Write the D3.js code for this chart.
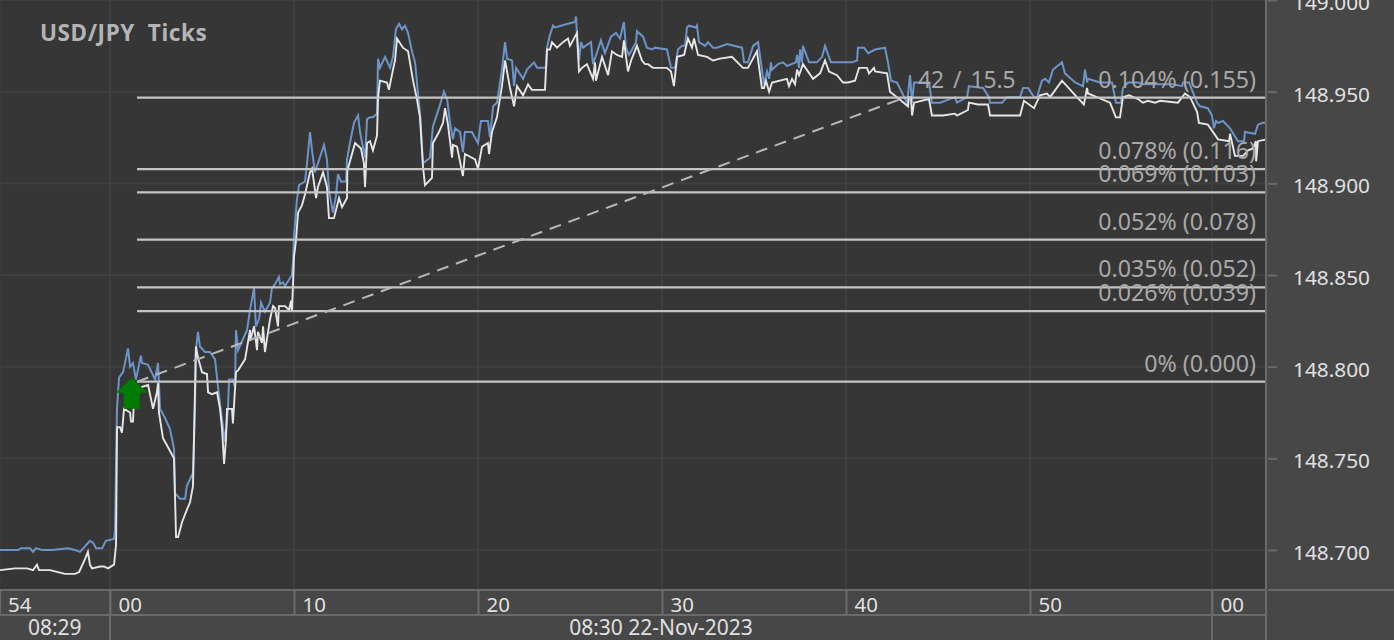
<!DOCTYPE html>
<html><head><meta charset="utf-8">
<script src="https://cdn.jsdelivr.net/npm/d3@7"></script>
<style>
html,body{margin:0;padding:0;background:#474747;overflow:hidden}
svg{display:block}
text{font-family:"Noto Sans",sans-serif}
</style></head><body><div id="c"></div>
<script>
const title="USD/JPY  Ticks";
const askSec=[-5.98,-5.00,-4.84,-4.35,-4.18,-4.02,-3.70,-3.15,-2.28,-1.90,-1.63,-1.36,-1.09,-0.92,-0.76,-0.43,-0.22,0.22,0.27,0.38,0.49,0.71,0.98,1.09,1.25,1.41,1.68,1.74,2.07,2.45,2.61,2.72,2.99,3.26,3.48,3.53,3.80,4.08,4.18,4.51,4.62,4.67,4.78,4.89,5.16,5.43,5.71,5.87,5.98,6.14,6.25,6.41,6.47,6.68,6.79,6.85,6.96,7.45,7.61,7.83,7.93,8.10,8.21,8.42,8.70,8.80,8.97,9.18,9.24,9.40,9.51,9.89,9.95,10.00,10.16,10.27,10.60,10.71,10.87,10.98,11.14,11.63,11.79,11.90,12.12,12.28,12.39,12.55,12.83,12.88,13.04,13.26,13.48,13.59,13.86,13.97,14.13,14.29,14.51,14.57,14.67,14.95,15.22,15.38,15.54,15.71,15.87,16.03,16.20,16.41,16.58,16.74,16.85,17.01,17.39,17.55,17.88,18.15,18.32,18.48,18.64,18.75,19.02,19.18,19.29,19.67,20.00,20.16,20.54,20.65,20.82,21.03,21.30,21.47,21.58,21.85,21.96,22.07,22.45,22.66,23.04,23.21,23.70,23.75,23.91,24.08,24.18,24.89,25.27,25.33,25.38,25.49,25.60,25.71,26.14,26.25,26.52,26.68,26.90,27.23,27.50,27.72,27.93,28.04,28.21,28.59,28.64,28.97,29.18,29.46,29.62,30.27,30.49,30.71,30.87,31.09,31.25,31.36,31.47,31.85,31.90,32.01,32.34,32.50,32.77,32.99,33.53,34.35,34.46,34.67,34.95,35.22,35.43,35.54,35.71,35.82,35.92,35.98,36.30,36.58,36.79,37.28,37.34,37.45,37.50,37.61,37.66,37.99,38.42,38.70,38.86,39.18,39.78,40.00,40.33,40.60,40.65,40.98,41.20,41.58,42.12,42.28,42.45,42.77,43.32,43.48,43.59,43.70,44.51,44.67,45.11,45.92,46.03,46.58,46.68,47.45,47.77,47.83,48.48,48.75,49.46,49.62,49.89,50.16,50.22,50.38,50.65,50.82,51.03,51.25,51.74,51.90,52.45,52.88,52.99,53.10,53.15,53.80,54.46,54.67,54.95,55.05,55.33,55.87,56.14,56.96,57.77,58.26,58.32,58.64,59.08,59.24,59.67,59.89,60.00,60.11,60.22,60.49,60.87,61.30,61.63,61.68,62.23,62.39,62.66,62.93];
const askPx=[148.700,148.700,148.701,148.701,148.699,148.701,148.700,148.700,148.701,148.700,148.699,148.702,148.705,148.704,148.701,148.701,148.705,148.706,148.711,148.777,148.794,148.797,148.810,148.800,148.802,148.793,148.806,148.802,148.801,148.793,148.802,148.777,148.772,148.766,148.755,148.731,148.728,148.728,148.735,148.742,148.778,148.809,148.819,148.811,148.808,148.808,148.804,148.789,148.780,148.767,148.759,148.777,148.793,148.793,148.789,148.820,148.809,148.820,148.831,148.843,148.822,148.826,148.835,148.830,148.835,148.843,148.845,148.849,148.845,148.846,148.844,148.850,148.858,148.871,148.891,148.899,148.901,148.911,148.928,148.918,148.906,148.921,148.913,148.896,148.884,148.893,148.905,148.901,148.901,148.913,148.922,148.933,148.937,148.928,148.914,148.935,148.936,148.936,148.938,148.968,148.963,148.969,148.963,148.969,148.984,148.987,148.984,148.986,148.982,148.972,148.966,148.949,148.938,148.911,148.914,148.931,148.941,148.950,148.946,148.933,148.924,148.930,148.928,148.917,148.928,148.928,148.922,148.934,148.934,148.925,148.942,148.944,148.962,148.977,148.968,148.967,148.953,148.963,148.957,148.962,148.966,148.963,148.963,148.974,148.981,148.986,148.985,148.987,148.988,148.991,148.980,148.967,148.977,148.974,148.977,148.965,148.973,148.978,148.971,148.980,148.982,148.979,148.988,148.974,148.970,148.977,148.983,148.980,148.974,148.973,148.974,148.973,148.963,148.963,148.973,148.975,148.975,148.985,148.986,148.985,148.986,148.977,148.975,148.977,148.974,148.974,148.976,148.974,148.966,148.966,148.975,148.977,148.962,148.954,148.961,148.957,148.966,148.962,148.965,148.966,148.964,148.966,148.970,148.963,148.973,148.966,148.975,148.966,148.966,148.969,148.975,148.966,148.966,148.966,148.966,148.967,148.974,148.974,148.971,148.973,148.974,148.966,148.956,148.955,148.944,148.959,148.944,148.955,148.955,148.944,148.944,148.947,148.944,148.947,148.953,148.952,148.947,148.944,148.944,148.947,148.947,148.952,148.952,148.948,148.947,148.947,148.956,148.957,148.955,148.962,148.966,148.960,148.955,148.953,148.962,148.955,148.957,148.955,148.955,148.944,148.944,148.952,148.955,148.955,148.954,148.954,148.954,148.953,148.955,148.955,148.944,148.942,148.941,148.937,148.930,148.934,148.933,148.934,148.930,148.923,148.923,148.928,148.927,148.932,148.933,148.933];
const bidSec=[-5.98,-5.16,-4.51,-4.18,-3.97,-3.86,-3.26,-2.45,-1.90,-1.68,-1.36,-1.20,-1.09,-0.98,-0.54,-0.33,-0.11,0.22,0.33,0.38,0.54,0.65,0.76,1.09,1.14,1.25,1.30,1.74,2.07,2.34,2.55,2.61,2.66,2.88,3.10,3.48,3.59,3.70,3.91,4.18,4.35,4.51,4.67,4.78,5.00,5.27,5.33,5.54,5.82,5.98,6.09,6.20,6.30,6.36,6.63,6.68,6.85,6.96,7.34,7.61,7.62,7.83,7.99,8.04,8.26,8.32,8.42,8.70,8.86,8.97,9.13,9.18,9.51,9.73,9.84,9.89,9.95,10.00,10.11,10.22,10.43,10.60,10.87,10.98,11.20,11.30,11.58,11.79,11.90,12.17,12.45,12.61,12.88,12.90,13.32,13.64,13.80,13.86,13.97,14.13,14.29,14.51,14.57,14.67,15.05,15.16,15.38,15.49,15.60,15.92,16.20,16.47,16.68,16.85,17.01,17.12,17.50,17.55,17.88,18.10,18.21,18.37,18.59,18.64,18.86,19.18,19.29,19.84,20.00,20.22,20.54,20.60,20.76,21.03,21.30,21.47,21.74,21.96,22.12,22.45,22.72,22.93,23.64,23.75,23.91,24.02,24.29,24.62,24.89,25.00,25.27,25.38,25.49,25.65,25.92,26.25,26.36,26.41,26.74,27.07,27.28,27.55,27.83,27.93,28.15,28.32,28.64,28.91,29.08,29.24,29.51,30.00,30.27,30.49,30.65,30.82,31.20,31.41,31.63,31.74,31.96,32.45,32.77,33.15,33.80,34.40,34.67,35.16,35.43,35.54,35.65,35.82,35.98,36.79,36.90,37.07,37.23,37.34,37.45,37.66,38.21,38.59,38.86,39.08,39.51,39.84,40.11,40.49,40.71,41.14,41.25,41.52,41.58,42.23,42.39,42.77,43.37,43.42,43.53,43.59,43.70,44.51,44.67,45.27,45.92,46.03,46.63,46.68,47.17,47.72,47.83,48.48,48.91,49.46,49.67,50.22,50.54,50.92,51.09,51.74,52.55,52.93,53.10,53.15,53.64,54.35,54.67,54.89,55.05,55.38,55.87,56.14,56.41,56.79,57.07,58.04,58.42,58.70,59.08,59.18,59.67,60.22,60.82,60.87,61.14,61.58,61.85,62.12,62.28,62.29,62.39,62.88];
const bidPx=[148.689,148.690,148.690,148.689,148.692,148.689,148.689,148.687,148.687,148.688,148.695,148.699,148.692,148.690,148.691,148.691,148.690,148.692,148.703,148.767,148.767,148.764,148.777,148.775,148.770,148.770,148.781,148.789,148.790,148.777,148.786,148.791,148.775,148.761,148.757,148.750,148.707,148.707,148.715,148.722,148.726,148.735,148.811,148.805,148.797,148.796,148.786,148.785,148.786,148.777,148.766,148.747,148.760,148.777,148.777,148.769,148.797,148.798,148.804,148.820,148.814,148.822,148.809,148.819,148.813,148.822,148.808,148.826,148.833,148.832,148.822,148.833,148.833,148.831,148.836,148.830,148.846,148.860,148.869,148.884,148.888,148.894,148.906,148.908,148.892,148.898,148.906,148.898,148.881,148.881,148.892,148.887,148.892,148.907,148.922,148.919,148.911,148.898,148.922,148.923,148.918,148.926,148.947,148.956,148.955,148.951,148.962,148.967,148.979,148.974,148.972,148.956,148.946,148.936,148.909,148.899,148.903,148.922,148.928,148.933,148.941,148.932,148.914,148.921,148.920,148.904,148.916,148.913,148.908,148.920,148.922,148.916,148.928,148.936,148.953,148.967,148.952,148.942,148.953,148.948,148.954,148.951,148.951,148.973,148.973,148.977,148.974,148.977,148.979,148.975,148.980,148.982,148.961,148.963,148.965,148.957,148.966,148.956,148.969,148.959,148.972,148.970,148.969,148.978,148.961,148.967,148.975,148.967,148.965,148.965,148.963,148.963,148.963,148.961,148.953,148.969,148.970,148.979,148.974,148.979,148.970,148.969,148.967,148.968,148.969,148.963,148.963,148.972,148.952,148.952,148.956,148.950,148.955,148.957,148.953,148.957,148.954,148.962,148.959,148.965,148.957,148.960,148.967,148.961,148.959,148.955,148.955,148.956,148.963,148.963,148.960,148.963,148.961,148.960,148.950,148.947,148.942,148.947,148.947,148.937,148.944,148.946,148.937,148.937,148.938,148.937,148.940,148.944,148.943,148.943,148.937,148.937,148.937,148.937,148.945,148.941,148.948,148.949,148.947,148.956,148.947,148.943,148.952,148.949,148.947,148.944,148.936,148.936,148.947,148.948,148.946,148.944,148.945,148.944,148.945,148.944,148.949,148.947,148.939,148.933,148.932,148.924,148.923,148.927,148.915,148.915,148.918,148.919,148.923,148.912,148.923,148.924];
const basePrice=148.7918;
const levelDiffs=[0,0.0385,0.0515,0.0775,0.1033,0.1160,0.155];
const levelLabels=["0% (0.000)","0.026% (0.039)","0.035% (0.052)","0.052% (0.078)","0.069% (0.103)","0.078% (0.116)","0.104% (0.155)"];
const yTicks=[148.70,148.75,148.80,148.85,148.90,148.95,149.00];
const xTicks=[-6,0,10,20,30,40,50,59.89];
const xTickLabels=["54","00","10","20","30","40","50","00"];
const minuteLabels=[{from:-6,to:0,text:"08:29"},{from:0,to:59.89,text:"08:30 22-Nov-2023"}];
const trendStart={sec:1.47,price:148.7918}, trendEnd={sec:43.2,price:148.9468};
const levelStartSec=1.47;
const entry={sec:1.18,price:148.794};
const trendLabel="42 / 15.5";

const W=1394,H=640,plotR=1266,plotB=590;
const x=d3.scaleLinear().domain([0,60]).range([110,1214]);
const y=d3.scaleLinear().domain([148.7,149.0]).range([550,0]);
const svg=d3.select("#c").append("svg").attr("width",W).attr("height",H);
svg.append("rect").attr("width",W).attr("height",H).attr("fill","#474747");
svg.append("rect").attr("width",plotR).attr("height",plotB).attr("fill","#363636");
svg.append("clipPath").attr("id","p").append("rect").attr("width",plotR).attr("height",plotB);
const plot=svg.append("g").attr("clip-path","url(#p)");
// grid
plot.selectAll(".gy").data(yTicks).join("line").attr("x1",0).attr("x2",plotR).attr("y1",d=>y(d)).attr("y2",d=>y(d)).attr("stroke","#3f3f3f").attr("stroke-width",2);
plot.selectAll(".gx").data(xTicks).join("line").attr("x1",d=>x(d)).attr("x2",d=>x(d)).attr("y1",0).attr("y2",plotB).attr("stroke","#3f3f3f").attr("stroke-width",2);
// series
const line=d3.line().x(d=>x(d[0])).y(d=>y(d[1]));
plot.append("path").attr("d",line(d3.zip(askSec,askPx))).attr("fill","none").attr("stroke","#6c94c8").attr("stroke-width",2);
plot.append("path").attr("d",line(d3.zip(bidSec,bidPx))).attr("fill","none").attr("stroke","#e6e6e6").attr("stroke-width",1.9);
// levels
plot.selectAll(".lv").data(levelDiffs).join("line").attr("x1",x(levelStartSec)).attr("x2",plotR).attr("y1",d=>y(basePrice+d)).attr("y2",d=>y(basePrice+d)).attr("stroke","#c4c4c4").attr("stroke-width",2.2);
plot.append("line").attr("x1",x(trendStart.sec)).attr("y1",y(trendStart.price)).attr("x2",x(trendEnd.sec)).attr("y2",y(trendEnd.price)).attr("stroke","#b8b8b8").attr("stroke-width",2).attr("stroke-dasharray","12 8");
// labels on levels
plot.selectAll(".ll").data(levelDiffs).join("text").attr("x",1256).attr("y",d=>y(basePrice+d)-10).attr("text-anchor","end").attr("font-size",23.2).attr("fill","#a8a8a8").text((d,i)=>levelLabels[i]);
plot.append("text").attr("x",918).attr("y",88).attr("font-size",22.8).attr("word-spacing",3).attr("fill","#a8a8a8").text(trendLabel);
// arrow
const ax=x(entry.sec),ay=y(entry.price);
const arrow=[[0,0],[16,15],[8,15],[8,31],[-8,31],[-8,15],[-16,15]];
plot.append("polygon").attr("points",arrow.map(p=>[ax+p[0],ay+p[1]].join(",")).join(" ")).attr("fill","#007a00");
plot.append("text").attr("x",40).attr("y",41).attr("font-size",22.5).attr("letter-spacing",0.6).attr("font-weight","bold").attr("fill","#b4b4b4").style("white-space","pre").text(title);
// y axis
const ya=svg.append("g").attr("transform",`translate(${plotR+2},0)`).call(d3.axisRight(y).tickValues(yTicks).tickFormat(d3.format(".3f")).tickSize(9).tickPadding(16));
ya.select(".domain").remove();
ya.selectAll(".tick line").attr("stroke","#6a6a6a").attr("stroke-width",2);
ya.selectAll(".tick text").attr("fill","#e0e0e0").attr("font-size",20.8).attr("font-family",'"Noto Sans"').attr("dy","0.45em");
// x axis
const xa=svg.append("g").attr("transform",`translate(0,${plotB})`).call(d3.axisBottom(x).tickValues(xTicks).tickFormat((d,i)=>xTickLabels[i]).tickSize(25).tickPadding(0));
xa.select(".domain").remove();
xa.selectAll(".tick line").attr("stroke","#6a6a6a").attr("stroke-width",2);
xa.selectAll(".tick text").attr("fill","#e0e0e0").attr("font-size",20.5).attr("font-family",'"Noto Sans"').attr("text-anchor","start").attr("dx",8).attr("y",22).attr("dy",0);
// frame
const fr="#6a6a6a";
const seg=(a,b,c,d)=>svg.append("line").attr("x1",a).attr("y1",b).attr("x2",c).attr("y2",d).attr("stroke",fr).attr("stroke-width",2);
seg(0,plotB,plotR,plotB);seg(plotR+2,plotB,W,plotB);seg(0,615,plotR,615);seg(plotR,0,plotR,H);
minuteLabels.forEach(m=>{
  seg(x(m.to),plotB,x(m.to),H);
  svg.append("text").attr("x",(x(Math.max(m.from,-6))+x(m.to))/2).attr("y",635).attr("text-anchor","middle").attr("font-size",21).attr("fill","#e0e0e0").text(m.text);
});
</script></body></html>
